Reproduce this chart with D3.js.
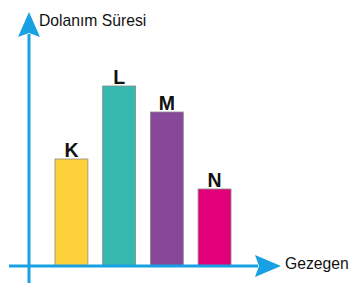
<!DOCTYPE html>
<html>
<head>
<meta charset="utf-8">
<script src="https://cdn.jsdelivr.net/npm/d3@7"></script>
<style>
  body { margin: 0; background: #fff; }
  svg { display: block; font-family: "Liberation Sans", Arial, sans-serif; }
</style>
</head>
<body>
<svg id="chart" width="358" height="289"></svg>
<script>
'use strict'

// planets and their orbital periods (relative units)
const planets = ['K', 'L', 'M', 'N']
const periods = [107, 180, 154, 77]
const barColors = ['#FDD13A', '#35B8AE', '#87489A', '#E2007A']
const yTitle = 'Dolanım Süresi'
const xTitle = 'Gezegen'

const axisColor = '#17A1E2'
const baseY = 266, axisX = 29

const svg = d3.select('#chart')

// x scale (planets):
const x = d3.scaleBand()
  .domain(planets)
  .range([40.2, 245.8])
  .paddingInner(0.31)
  .paddingOuter(0.31)

// y scale (period):
const y = d3.scaleLinear()
  .domain([0, 200])
  .range([baseY, baseY - 200])

// bars
svg.selectAll('rect.bar')
  .data(planets)
  .enter().append('rect')
  .attr('class', 'bar')
  .attr('x', d => x(d))
  .attr('y', (d, i) => y(periods[i]))
  .attr('width', x.bandwidth())
  .attr('height', (d, i) => y(0) - y(periods[i]))
  .attr('fill', (d, i) => barColors[i])
  .attr('stroke', '#8a8a8a')
  .attr('stroke-width', 0.8)

// bar letters
svg.selectAll('text.lbl')
  .data(planets)
  .enter().append('text')
  .attr('class', 'lbl')
  .attr('x', d => x(d) + x.bandwidth() / 2)
  .attr('y', (d, i) => y(periods[i]) - 2)
  .attr('text-anchor', 'middle')
  .attr('font-size', 19.5)
  .attr('font-weight', 'bold')
  .attr('fill', '#111')
  .text(d => d)

// axes
svg.append('line')
  .attr('x1', 9).attr('x2', 258)
  .attr('y1', baseY).attr('y2', baseY)
  .attr('stroke', axisColor).attr('stroke-width', 3)
svg.append('line')
  .attr('x1', axisX).attr('x2', axisX)
  .attr('y1', 283).attr('y2', 34)
  .attr('stroke', axisColor).attr('stroke-width', 3)

// arrow heads
svg.append('path')
  .attr('d', `M${axisX},12 L${axisX + 11},37 L${axisX},33 L${axisX - 11},37 Z`)
  .attr('fill', axisColor)
svg.append('path')
  .attr('d', `M281,${baseY} L255,${baseY - 11} L259,${baseY} L255,${baseY + 11} Z`)
  .attr('fill', axisColor)

// axis titles
svg.append('text')
  .attr('x', 39).attr('y', 26)
  .attr('font-size', 15.7)
  .attr('fill', '#111')
  .text(yTitle)
svg.append('text')
  .attr('x', 285).attr('y', 269)
  .attr('font-size', 15.7)
  .attr('fill', '#111')
  .text(xTitle)
</script>
</body>
</html>
